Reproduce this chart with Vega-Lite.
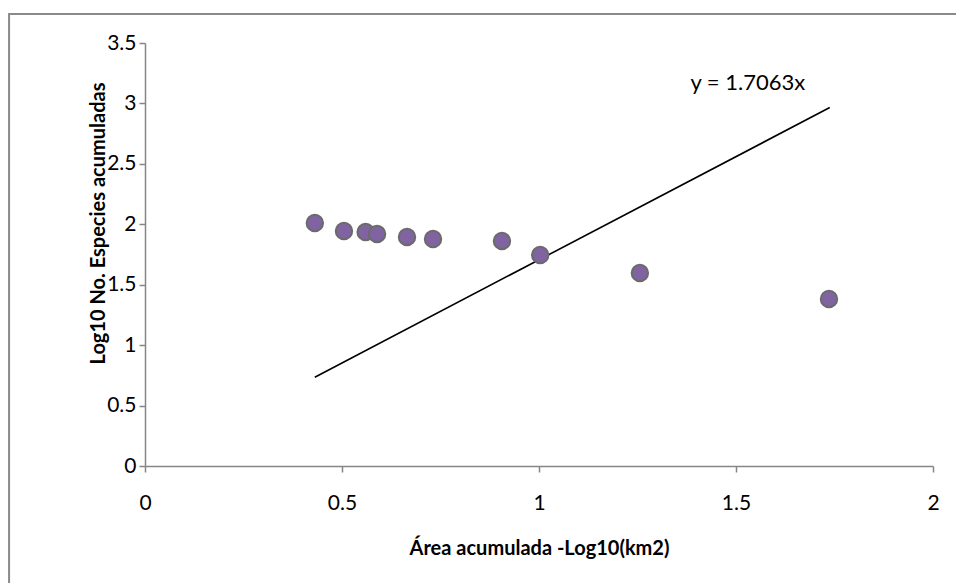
{
  "$schema": "https://vega.github.io/schema/vega-lite/v6.json",
  "width": 788,
  "height": 423,
  "autosize": {"type": "none"},
  "padding": {"left": 145, "top": 43, "right": 23, "bottom": 117},
  "background": "white",
  "config": {
    "view": {"stroke": null},
    "font": "Lato",
    "axis": {
      "domainColor": "#868686",
      "domainWidth": 1.5,
      "tickColor": "#868686",
      "tickWidth": 1.5,
      "grid": false,
      "labelFont": "Lato",
      "labelFontSize": 21,
      "labelColor": "#000000",
      "labelFlush": false,
      "titleFont": "Lato",
      "titleFontSize": 20,
      "titleFontWeight": "bold",
      "titleColor": "#000000"
    }
  },
  "datasets": {
    "points": [
      {"area": 0.431, "species": 2.011},
      {"area": 0.505, "species": 1.944},
      {"area": 0.560, "species": 1.936},
      {"area": 0.589, "species": 1.920},
      {"area": 0.665, "species": 1.895},
      {"area": 0.731, "species": 1.878},
      {"area": 0.906, "species": 1.862},
      {"area": 1.003, "species": 1.746},
      {"area": 1.256, "species": 1.597},
      {"area": 1.736, "species": 1.382}
    ],
    "trend": [
      {"area": 0.431, "species": 0.735},
      {"area": 1.738, "species": 2.966}
    ]
  },
  "layer": [
    {
      "data": {"values": [{}]},
      "mark": {"type": "rect", "fill": null, "stroke": "#8a8a8a", "strokeWidth": 2, "clip": false},
      "encoding": {
        "x": {"datum": -0.345, "type": "quantitative", "scale": {"domain": [0, 2]}},
        "x2": {"datum": 2.3},
        "y": {"datum": 3.74, "type": "quantitative", "scale": {"domain": [0, 3.5]}},
        "y2": {"datum": -1.3}
      }
    },
    {
      "data": {"name": "trend"},
      "mark": {"type": "line", "color": "#000000", "strokeWidth": 1.6},
      "encoding": {
        "x": {"field": "area", "type": "quantitative"},
        "y": {"field": "species", "type": "quantitative"}
      }
    },
    {
      "data": {"name": "points"},
      "mark": {"type": "point", "shape": "circle", "filled": true, "fill": "#8064A2", "stroke": "#6b6b6b", "strokeWidth": 2, "size": 270, "opacity": 1},
      "encoding": {
        "x": {
          "field": "area",
          "type": "quantitative",
          "scale": {"domain": [0, 2], "nice": false, "zero": true},
          "axis": {
            "title": "Área acumulada -Log10(km2)",
            "values": [0, 0.5, 1, 1.5, 2],
            "format": "~g",
            "tickSize": 6,
            "labelPadding": 20,
            "titleY": 82,
            "titleBaseline": "middle"
          }
        },
        "y": {
          "field": "species",
          "type": "quantitative",
          "scale": {"domain": [0, 3.5], "nice": false},
          "axis": {
            "title": "Log10 No. Especies acumuladas",
            "values": [0, 0.5, 1, 1.5, 2, 2.5, 3, 3.5],
            "format": "~g",
            "tickSize": 6,
            "labelPadding": 3,
            "titleX": -47,
            "titleY": 180,
            "titleBaseline": "middle",
            "titleAngle": -90
          }
        }
      }
    },
    {
      "data": {"values": [{"label": "y = 1.7063x"}]},
      "mark": {"type": "text", "fontSize": 22, "font": "Lato", "color": "#000000", "align": "center", "baseline": "middle"},
      "encoding": {
        "x": {"datum": 1.53, "type": "quantitative"},
        "y": {"datum": 3.169, "type": "quantitative"},
        "text": {"field": "label"}
      }
    }
  ]
}
